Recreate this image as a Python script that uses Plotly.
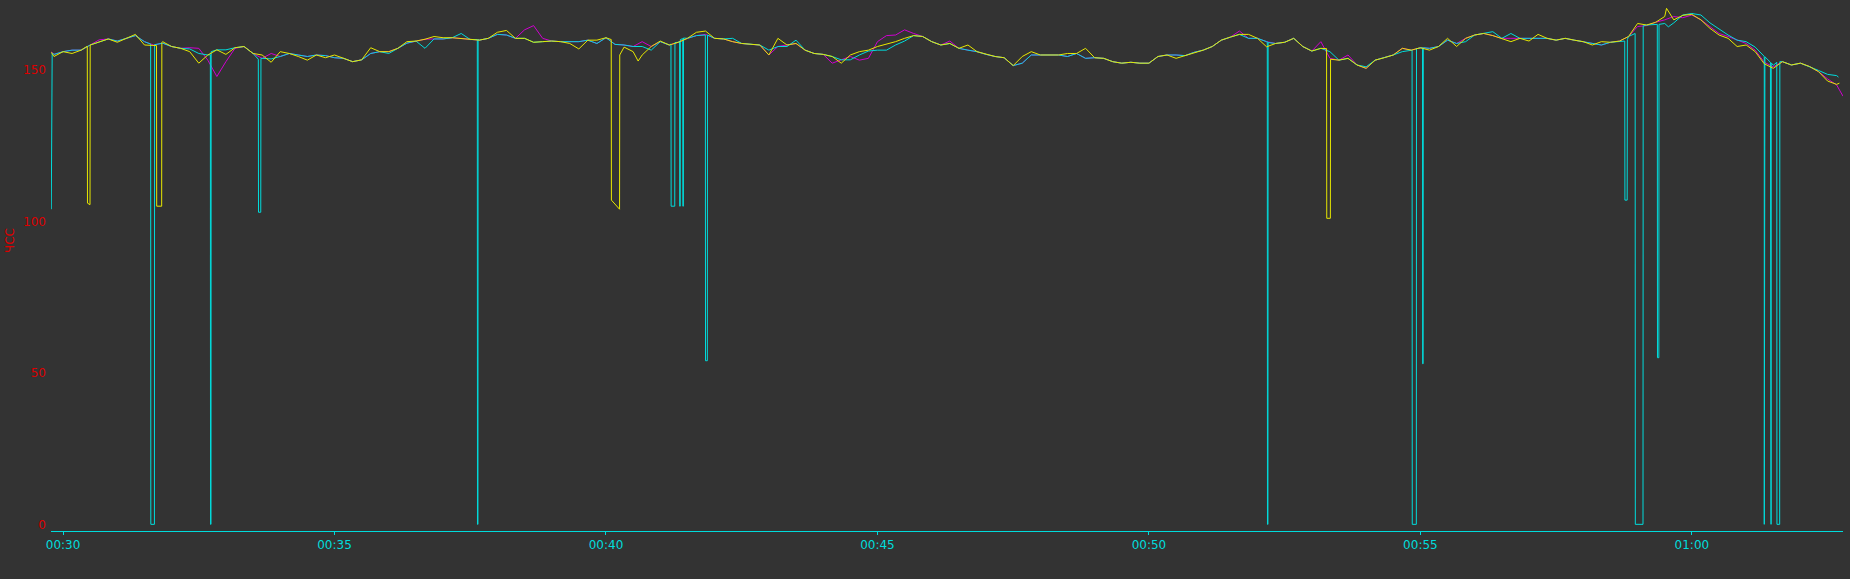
import plotly.graph_objects as go
from datetime import datetime, timedelta

# ---------------- data (seconds relative to 00:30:00, heart rate values) ----------------
grid_t = list(range(-10, 1961, 10))

cyan_vals = [
    155.1, 156.0, 156.5, 156.5, 158.2, 159.1, 160.2, 159.5, 160.4, 161.3,
    159.3, None, 158.8, 157.7, 157.1, 156.9, 155.4, 154.9, 156.6, 156.6,
    157.3, 157.7, 155.4, 153.8, 153.6, 154.4, 155.4, 154.9, 154.4, 154.9,
    154.7, 154.0, 153.8, 152.7, 153.3, 155.4, 156.0, 155.4, 157.1, 158.8,
    159.5, 157.1, 160.2, 160.2, 160.6, 162.0, 160.0, 159.8, 160.4, 161.7,
    161.5, 160.4, 160.4, 159.1, 159.3, 159.5, 159.3, 159.3, 159.3, 159.8,
    158.7, 160.6, 158.4, 158.2, 157.7, 157.7, 156.5, 159.3, 158.2, 159.1,
    160.4, 161.3, None, 160.4, 160.2, 160.4, 158.7, 158.4, 158.2, 156.5,
    157.7, 157.7, 159.8, 156.5, 155.4, 155.1, 154.4, 153.3, 153.3, 154.9,
    156.2, 156.5, 156.5, 158.2, 159.5, 161.3, 161.0, 159.3, 158.2, 158.7,
    157.1, 156.5, 156.0, 155.1, 154.4, 154.0, 151.4, 152.2, 154.9, 154.9,
    154.9, 154.9, 154.4, 155.4, 153.8, 154.0, 153.8, 152.7, 152.2, 152.5,
    152.2, 152.2, 154.4, 154.9, 154.9, 154.7, 155.8, 156.5, 157.7, 159.8,
    160.8, 161.7, 160.4, 160.4, 159.3, 158.7, 159.1, 160.4, 157.7, 156.2,
    157.1, 156.0, 153.2, 153.8, 151.6, 151.0, 153.2, 154.0, 154.9, 156.0,
    156.5, 157.3, 157.1, 157.7, 159.8, 158.7, 159.3, 161.5, 162.0, 162.6,
    160.4, 162.0, 160.4, 160.4, 160.4, 160.4, 159.8, 160.4, 159.8, 159.3,
    158.7, 158.2, 159.1, 159.5, 161.0, None, 164.8, 164.8, 165.3, 165.5,
    168.1, 168.6, 168.1, 165.5, 163.5, 161.5, 159.8, 159.3, 157.5, 154.0,
    151.5, 152.7, 151.6, 152.2, 151.1, 149.8, 148.5, 148.1,
]
magenta_vals = [
    155.1, 156.0, 156.5, 156.5, 158.2, 159.9, 160.2, 159.5, 160.4, 161.3,
    159.3, 158.2, 158.8, 157.7, 157.1, 157.3, 157.1, 153.2, 147.8, 152.7,
    157.1, 157.7, 155.4, 153.8, 155.4, 154.4, 155.4, 154.9, 154.4, 154.9,
    154.7, 154.0, 153.8, 152.7, 153.3, 155.4, 156.0, 156.0, 157.1, 158.8,
    159.5, 160.1, 160.2, 160.2, 160.6, 160.4, 160.0, 159.8, 160.4, 161.7,
    161.5, 160.4, 163.2, 164.6, 160.4, 159.5, 159.3, 159.3, 159.3, 159.8,
    158.7, 160.6, 158.4, 158.2, 157.7, 159.3, 157.7, 159.3, 158.2, 159.1,
    160.4, 161.3, 161.7, 160.4, 160.2, 159.3, 158.7, 158.4, 158.2, 154.9,
    157.7, 158.2, 158.7, 156.5, 155.4, 155.1, 152.2, 153.3, 154.4, 153.2,
    153.8, 159.3, 161.3, 161.5, 163.2, 162.0, 161.0, 159.3, 158.2, 159.5,
    157.1, 156.5, 156.0, 155.1, 154.4, 154.0, 151.4, 152.2, 154.9, 154.9,
    154.9, 154.9, 154.4, 155.4, 153.8, 154.0, 153.8, 152.7, 152.2, 152.5,
    152.2, 152.2, 154.4, 154.9, 154.9, 154.7, 155.8, 156.5, 157.7, 159.8,
    160.8, 162.8, 160.4, 160.4, 159.3, 158.7, 159.1, 160.4, 157.7, 156.2,
    159.3, 153.8, 153.2, 154.9, 151.6, 150.5, 153.2, 154.0, 154.9, 157.1,
    156.5, 157.3, 157.1, 157.7, 159.8, 158.7, 160.4, 161.5, 162.0, 161.3,
    160.4, 160.4, 160.4, 160.4, 160.4, 160.4, 159.8, 160.4, 159.8, 159.3,
    158.7, 158.2, 159.1, 159.5, 161.0, 164.3, 164.6, 165.7, 166.5, 167.6,
    167.2, 168.1, 166.5, 164.3, 162.0, 161.0, 159.8, 158.7, 156.5, 152.5,
    151.0, 152.7, 151.6, 152.2, 151.1, 149.4, 147.0, 145.0,
]
yellow_vals = [
    154.4, 156.0, 155.4, 156.5, 158.2, 159.1, 160.2, 159.1, 160.4, 161.7,
    158.2, 158.2, 159.3, 157.7, 157.1, 156.0, 152.2, 154.9, 156.6, 155.1,
    157.3, 157.7, 155.4, 154.9, 152.5, 156.0, 155.4, 154.4, 153.2, 154.9,
    154.0, 154.9, 153.8, 152.7, 153.3, 157.3, 156.0, 156.0, 157.1, 159.3,
    159.5, 160.1, 161.0, 160.6, 160.6, 160.4, 160.0, 159.8, 160.4, 162.4,
    163.0, 160.4, 160.4, 159.1, 159.3, 159.5, 159.3, 158.7, 156.9, 159.8,
    159.8, 160.6, None, 157.5, 156.0, 154.9, 157.7, 159.5, 158.2, 159.1,
    160.4, 162.4, 162.8, 160.4, 160.2, 159.3, 158.7, 158.4, 158.2, 154.9,
    160.4, 158.2, 158.7, 156.5, 155.4, 155.1, 154.4, 152.2, 154.9, 156.0,
    156.5, 157.7, 158.4, 159.3, 160.4, 161.3, 161.0, 159.3, 158.2, 158.7,
    157.1, 158.2, 156.0, 155.1, 154.4, 154.0, 151.4, 154.4, 156.0, 154.9,
    154.9, 154.9, 155.4, 155.4, 157.1, 154.0, 153.8, 152.7, 152.2, 152.5,
    152.2, 152.2, 154.4, 154.9, 153.8, 154.7, 155.8, 156.5, 157.7, 159.8,
    160.8, 161.7, 161.7, 160.4, 157.6, 158.7, 159.1, 160.4, 157.7, 156.2,
    157.1, None, 153.2, 153.8, 151.6, 150.5, 153.2, 154.0, 154.9, 157.1,
    156.5, 157.3, 156.5, 157.7, 160.4, 157.7, 160.4, 161.5, 162.0, 161.3,
    160.4, 159.3, 160.4, 159.5, 161.7, 160.4, 159.8, 160.4, 159.8, 159.3,
    158.2, 159.3, 159.1, 159.5, 161.0, 165.3, 164.8, 165.7, 167.6, 166.5,
    168.0, 168.3, 166.5, 163.7, 161.5, 160.4, 157.7, 158.2, 156.0, 152.0,
    150.5, 152.7, 151.6, 152.2, 151.1, 149.4, 146.3, 145.2,
]

# extra samples: signal dropouts and start/end points
cyan_extra_t = [-13, -12, 96.8, 97, 101, 101.2, 162.8, 163, 163.5, 163.7,
                215.8, 216, 218.5, 218.7, 457.8, 458, 458.5, 458.7,
                671.8, 672, 676, 676.2, 681.3, 681.5, 682, 682.2, 684.8, 685, 685.5, 685.7,
                709.8, 710, 712, 712.2, 1330.8, 1331, 1331.5, 1331.7,
                1490.8, 1491, 1495.5, 1495.7, 1502.3, 1502.5, 1503, 1503.2,
                1725.8, 1726, 1728.5, 1728.7, 1737.3, 1737.5, 1746, 1746.2,
                1761.8, 1762, 1763.5, 1763.7, 1774,
                1879.8, 1880, 1880.5, 1880.7, 1886.8, 1887, 1887.5, 1887.7,
                1893.8, 1894, 1897, 1897.2, 1962]
cyan_extra_v = [104, 155.5, 158.5, 0, 0, 158.3, 155.0, 0, 0, 156.0,
                153.5, 103, 103, 153.8, 160.0, 0, 0, 160.0,
                158.5, 105, 105, 159.0, 159.5, 105, 105, 160.0, 160.3, 105, 105, 160.5,
                161.5, 54, 54, 161.5, 159.3, 0, 0, 159.0,
                156.5, 0, 0, 157.0, 157.3, 53, 53, 157.3,
                159.5, 107, 107, 160.0, 162.0, 0, 0, 164.5,
                165.0, 55, 55, 165.0, 164.2,
                154.5, 0, 0, 154.3, 152.5, 0, 0, 152.3,
                152.5, 0, 0, 152.7, 147.6]
magenta_extra_t = [-13, 1967]
magenta_extra_v = [156.0, 141.3]
yellow_extra_t = [-13, 26.8, 27, 29.8, 103.3, 103.5, 109, 109.2,
                  605.8, 606, 615, 615.2, 635.5,
                  1396.3, 1396.5, 1400.5, 1400.7, 1772, 1963]
yellow_extra_v = [155.8, 157.8, 106, 105.5, 158.0, 105, 105, 159.0,
                  160.0, 107, 104, 154.9, 152.9,
                  157.0, 101, 101, 153.5, 170.3, 145.6]

series = [
    ("magenta", magenta_vals, magenta_extra_t, magenta_extra_v, "#d000d0"),
    ("cyan", cyan_vals, cyan_extra_t, cyan_extra_v, "#00dcdc"),
    ("yellow", yellow_vals, yellow_extra_t, yellow_extra_v, "#e8e800"),
]

base = datetime(2024, 1, 1, 0, 30, 0)

fig = go.Figure()
for name, vals, et, ev, color in series:
    pts = [(t, v) for t, v in zip(grid_t, vals) if v is not None]
    pts += list(zip(et, ev))
    pts.sort(key=lambda p: p[0])
    xs = [base + timedelta(seconds=p[0]) for p in pts]
    ys = [p[1] for p in pts]
    fig.add_trace(go.Scatter(x=xs, y=ys, mode="lines", name=name,
                             line=dict(color=color, width=1), showlegend=False,
                             hoverinfo="skip"))

x_lo = base + timedelta(seconds=-13.3)
x_hi = base + timedelta(seconds=1967)

fig.update_layout(
    width=1850, height=579,
    margin=dict(l=51, r=7, t=5, b=48),
    paper_bgcolor="#333333", plot_bgcolor="#333333",
    font=dict(family="DejaVu Sans", size=12),
    xaxis=dict(
        type="date", range=[x_lo, x_hi], tickformat="%H:%M",
        dtick=300000, tick0=base,
        showgrid=False, zeroline=False,
        showline=True, linecolor="#00dcdc", linewidth=1,
        ticks="outside", ticklen=3, tickcolor="#00dcdc", tickwidth=1,
        tickfont=dict(color="#00dcdc", size=12, family="DejaVu Sans"),
    ),
    yaxis=dict(
        range=[-2.2, 171.4], tickvals=[0, 50, 100, 150],
        showgrid=False, zeroline=False, showline=False, ticks="",
        tickfont=dict(color="#dd0000", size=12, family="DejaVu Sans"),
        ticklabelstandoff=4,
    ),
    annotations=[dict(
        text="ЧСС", xref="paper", yref="paper", x=-0.0229, y=0.553,
        xanchor="center", yanchor="middle", textangle=-90, showarrow=False,
        font=dict(color="#dd0000", size=12, family="DejaVu Sans"),
    )],
)

fig.write_html("out.html", config={"displayModeBar": False})
with open("out.html", "r", encoding="utf-8") as f:
    html = f.read()
html = html.replace("<head>", "<head><style>html,body{margin:0;padding:0;overflow:hidden;}</style>", 1)
with open("out.html", "w", encoding="utf-8") as f:
    f.write(html)
